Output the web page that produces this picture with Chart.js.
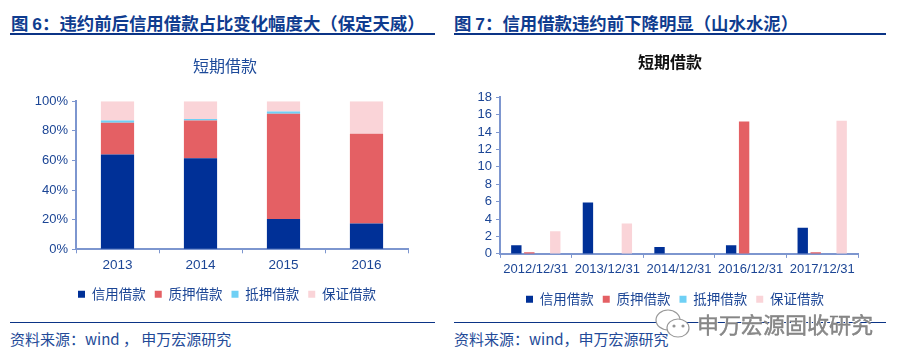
<!DOCTYPE html>
<html>
<head>
<meta charset="utf-8">
<script src="https://cdn.jsdelivr.net/npm/chart.js@4/dist/chart.umd.min.js"></script>
<style>
html, body { margin: 0; padding: 0; background: #fff; }
body { width: 902px; height: 364px; position: relative; overflow: hidden; font-family: "Noto Sans CJK SC", "Liberation Sans", sans-serif; color: #12388c; }
canvas { position: absolute; }
.head { position: absolute; top: 12px; font-size: 17.4px; font-weight: 700; line-height: 22px; white-space: nowrap; color: #0f3c8f; }
.head b { font-family: "Liberation Sans", sans-serif; }
.rule { position: absolute; background: #0b3486; }
.source { position: absolute; top: 329px; font-size: 15px; line-height: 20px; white-space: nowrap; color: #234a98; }
.mark { position: absolute; left: 697px; top: 309px; font-size: 22px; line-height: 28px; white-space: nowrap; color: #8a8a8a; -webkit-text-stroke: 0.4px #777; text-shadow: 1px 1px 0 #fff, -1px -1px 0 #fff; }
svg { position: absolute; left: 654px; top: 308px; }
</style>
</head>
<body>
<div class="head" style="left:11px">图 <b>6</b>：违约前后信用借款占比变化幅度大（保定天威）</div>
<div class="rule" style="left:10px;top:33px;width:425px;height:2px"></div>
<div class="head" style="left:454px">图 <b>7</b>：信用借款违约前下降明显（山水水泥）</div>
<div class="rule" style="left:454px;top:33px;width:432px;height:2px"></div>

<canvas id="left"></canvas>
<canvas id="right"></canvas>

<div class="rule" style="left:10px;top:322px;width:425px;height:1px"></div>
<div class="source" style="left:10px">资料来源：wind ， 申万宏源研究</div>
<div class="rule" style="left:454px;top:322px;width:432px;height:1px"></div>
<div class="source" style="left:454px">资料来源：wind，申万宏源研究</div>

<svg width="40" height="34" viewBox="0 0 40 34" fill="#fff" stroke="#999" stroke-width="1.2">
  <ellipse cx="14" cy="12" rx="12" ry="10"/>
  <ellipse cx="24" cy="20" rx="11" ry="9"/>
  <circle cx="20" cy="18" r="1" fill="#444"/>
  <circle cx="29" cy="18" r="1" fill="#444"/>
</svg>
<div class="mark">申万宏源固收研究</div>

<script>
const seriesNames = ["信用借款", "质押借款", "抵押借款", "保证借款"];
const seriesColors = ["#003097", "#e46064", "#6fd0f5", "#fad4d8"];

const leftYears = ["2013", "2014", "2015", "2016"];
const leftCredit = [64, 61.5, 20.5, 17.5];
const leftPledge = [21.5, 25.5, 71, 60.5];
const leftMortgage = [1.5, 1, 1.5, 0];
const leftGuarantee = [13, 12, 7, 22];

const rightDates = ["2012/12/31", "2013/12/31", "2014/12/31", "2016/12/31", "2017/12/31"];
const rightCredit = [1, 5.9, 0.8, 1, 3];
const rightPledge = [0.2, 0, 0, 15.2, 0.2];
const rightMortgage = [0, 0, 0, 0, 0];
const rightGuarantee = [2.6, 3.5, 0, 0, 15.3];

const axisColor = "#7d96cf";
const textColor = "#1b4595";
const tickFont = { family: "'Liberation Sans', sans-serif", size: 13 };
const legendFont = { family: "'Noto Sans CJK SC', sans-serif", size: 13.5 };

function makeDatasets(values, extra) {
	return values.map((data, i) => ({
		label: seriesNames[i],
		data: data,
		backgroundColor: seriesColors[i],
		...extra,
	}));
}

// title and legend sit centred on the whole panel, not on the space left by the padding
function nudgeBoxes(titleShift, legendShift, legendDrop) {
	return {
		id: "nudgeBoxes",
		afterLayout(chart) {
			chart.titleBlock.left += titleShift;
			chart.titleBlock.right += titleShift;
			chart.legend.left += legendShift;
			chart.legend.right += legendShift;
			chart.legend.top += legendDrop;
			chart.legend.bottom += legendDrop;
		},
	};
}

function baseOptions(titleText, titleStyle, padding, yWidth) {
	return {
		responsive: false,
		animation: false,
		layout: { padding: padding },
		plugins: {
			title: {
				display: true,
				text: titleText,
				color: titleStyle.color,
				font: { family: "'Noto Sans CJK SC', sans-serif", size: 16, weight: titleStyle.weight },
				padding: titleStyle.padding,
			},
			legend: {
				position: "bottom",
				labels: { boxWidth: 7, boxHeight: 7, padding: 9, color: textColor, font: legendFont },
			},
			tooltip: { enabled: false },
		},
		scales: {
			x: {
				stacked: false,
				border: { color: axisColor, width: 2 },
				grid: { drawOnChartArea: false, drawTicks: true, tickLength: 4, color: axisColor, lineWidth: 1 },
				ticks: { color: textColor, font: tickFont, maxRotation: 0, autoSkip: false, padding: 4 },
			},
			y: {
				min: 0,
				border: { color: axisColor, width: 2 },
				grid: { drawOnChartArea: false, drawTicks: true, tickLength: 4, color: axisColor, lineWidth: 1 },
				ticks: { color: textColor, font: tickFont, padding: 4, autoSkip: false },
				afterFit: (scale) => { scale.width = yWidth; },
			},
		},
	};
}

const leftCanvas = document.getElementById("left");
leftCanvas.width = 450;
leftCanvas.height = 260;
leftCanvas.style.cssText = "left:0;top:50px;width:450px;height:260px";

const leftOptions = baseOptions("短期借款", { color: "#1d4a9a", weight: 400, padding: { top: 6, bottom: 26 } }, { left: 10, right: 42, top: 0, bottom: 0 }, 66);
leftOptions.scales.x.stacked = true;
leftOptions.scales.y.stacked = true;
leftOptions.scales.y.max = 100;
leftOptions.scales.y.ticks.stepSize = 20;
leftOptions.scales.y.ticks.callback = (value) => value + "%";
leftOptions.scales.x.ticks.font = { family: tickFont.family, size: 13.5 };

new Chart(leftCanvas, {
	type: "bar",
	data: {
		labels: leftYears,
		datasets: makeDatasets([leftCredit, leftPledge, leftMortgage, leftGuarantee], { barPercentage: 1, categoryPercentage: 0.4 }),
	},
	options: leftOptions,
	plugins: [nudgeBoxes(16, 18, 1)],
});

const rightCanvas = document.getElementById("right");
rightCanvas.width = 452;
rightCanvas.height = 269;
rightCanvas.style.cssText = "left:450px;top:45px;width:452px;height:269px";

const rightOptions = baseOptions("短期借款", { color: "#111", weight: 700, padding: { top: 7, bottom: 26 } }, { left: 10, right: 44, top: 0, bottom: 0 }, 40);
rightOptions.scales.y.max = 18;
rightOptions.scales.y.ticks.stepSize = 2;

new Chart(rightCanvas, {
	type: "bar",
	data: {
		labels: rightDates,
		datasets: makeDatasets([rightCredit, rightPledge, rightMortgage, rightGuarantee], { barPercentage: 0.8, categoryPercentage: 0.725 }),
	},
	options: rightOptions,
	plugins: [nudgeBoxes(11, 16, 2)],
});
</script>
</body>
</html>
